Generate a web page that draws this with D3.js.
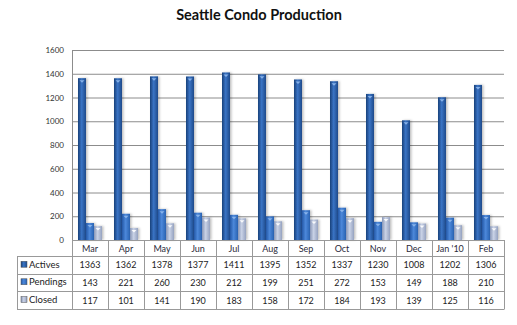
<!DOCTYPE html>
<html><head><meta charset="utf-8">
<script src="https://cdn.jsdelivr.net/npm/d3@7"></script>
<style>body{margin:0;background:#fff;}svg{display:block;}</style>
</head><body><svg id="c" width="517" height="325"></svg>
<script>
const categories = ["Mar","Apr","May","Jun","Jul","Aug","Sep","Oct","Nov","Dec","Jan '10","Feb"];
const actives  = [1363,1362,1378,1377,1411,1395,1352,1337,1230,1008,1202,1306];
const pendings = [143,221,260,230,212,199,251,272,153,149,188,210];
const closed   = [117,101,141,190,183,158,172,184,193,139,125,116];
const seriesNames = ["Actives","Pendings","Closed"];
const yTicks = [0,200,400,600,800,1000,1200,1400,1600];
const title = "Seattle Condo Production";

(function(){
const series = [actives, pendings, closed];
const svg = d3.select("#c");
const font = "Lato, 'Open Sans', sans-serif";
const pL = 72, pR = 504, pT = 50, pB = 240;
const x = d3.scaleBand().domain(categories).range([pL, pR]);
const xs = d3.scaleBand().domain(seriesNames).range([0, x.bandwidth()]).paddingOuter(0.75).paddingInner(0);
const y = d3.scaleLinear().domain([0,1600]).range([pB, pT]);

const defs = svg.append("defs");
const cols = [["#17407a","#3a74c4","#1d4a8a"],["#2559a8","#4c88da","#2a62b2"],["#8896b6","#c9d2e6","#95a2c0"]];
cols.forEach((c,i)=>{
  const g = defs.append("linearGradient").attr("id","g"+i).attr("x1","0").attr("x2","1").attr("y1","0").attr("y2","0");
  g.append("stop").attr("offset","0").attr("stop-color",c[0]);
  g.append("stop").attr("offset","0.45").attr("stop-color",c[1]);
  g.append("stop").attr("offset","1").attr("stop-color",c[2]);
});
const f = defs.append("filter").attr("id","sh").attr("x","-50%").attr("y","-10%").attr("width","200%").attr("height","130%");
f.append("feDropShadow").attr("dx",1.5).attr("dy",0).attr("stdDeviation",1).attr("flood-color","#000").attr("flood-opacity",0.25);

svg.append("text").attr("x",259).attr("y",20).attr("text-anchor","middle")
  .attr("font-family",font).attr("font-weight","bold").attr("font-size",14.5).attr("fill","#111").text(title);

svg.append("g").selectAll("line").data(yTicks.filter(d=>d>0)).join("line")
  .attr("x1",pL).attr("x2",pR).attr("y1",d=>y(d)+0.5).attr("y2",d=>y(d)+0.5)
  .attr("stroke","#8c8c8c").attr("stroke-width",1);

const ya = svg.append("g").attr("transform",`translate(${pL},0)`)
  .call(d3.axisLeft(y).tickValues(yTicks).tickFormat(d3.format("d")).tickSize(0).tickPadding(8));
ya.select(".domain").attr("stroke","#8c8c8c").attr("d",`M0.5,${pT}V${pB}`);
ya.selectAll("text").attr("font-family",font).attr("font-size",8).attr("fill","#333");

series.forEach((vals,si)=>{
  svg.append("g").selectAll("rect").data(vals).join("rect")
    .attr("x",(d,i)=>x(categories[i])+xs(seriesNames[si]))
    .attr("width",xs.bandwidth())
    .attr("y",d=>y(d)).attr("height",d=>pB-y(d))
    .attr("fill",`url(#g${si})`).attr("filter","url(#sh)");
  svg.append("g").selectAll("path").data(vals).join("path")
    .attr("d",(d,i)=>{const bx=x(categories[i])+xs(seriesNames[si]);const w=xs.bandwidth();const by=y(d)+2;
      return `M${bx+w/2-2.5},${by}L${bx+w/2+2.5},${by}L${bx+w/2},${by+2.5}Z`;})
    .attr("fill", si===2 ? "#ffffff" : "#8fb8ec").attr("opacity",0.9);
});

const tl = 17, rowY = [256, 273.5, 291, 309];
const t = svg.append("g").attr("stroke","#999").attr("stroke-width",1);
t.append("line").attr("x1",pL).attr("x2",pR).attr("y1",pB+0.5).attr("y2",pB+0.5);
rowY.forEach(ry=>t.append("line").attr("x1",tl).attr("x2",pR).attr("y1",Math.round(ry)+0.5).attr("y2",Math.round(ry)+0.5));
t.append("line").attr("x1",tl+0.5).attr("x2",tl+0.5).attr("y1",rowY[0]).attr("y2",rowY[3]+0.5);
const vx = categories.map(c=>x(c)).concat([pR]);
t.selectAll(".v").data(vx).join("line").attr("class","v")
  .attr("x1",d=>Math.round(d)+0.5).attr("x2",d=>Math.round(d)+0.5).attr("y1",pB).attr("y2",rowY[3]+0.5);

svg.append("g").selectAll("text").data(categories).join("text")
  .attr("x",d=>x(d)+x.bandwidth()/2).attr("y",251.5).attr("text-anchor","middle")
  .attr("font-family",font).attr("font-size",9).attr("fill","#2a2a3a").text(d=>d);

series.forEach((vals,si)=>{
  const cy = (rowY[si]+rowY[si+1])/2 + 3.5;
  svg.append("g").selectAll("text").data(vals).join("text")
    .attr("x",(d,i)=>x(categories[i])+x.bandwidth()/2).attr("y",cy).attr("text-anchor","middle")
    .attr("font-family",font).attr("font-size",9).attr("fill","#222").text(d=>d);
  svg.append("rect").attr("x",21).attr("y",cy-7).attr("width",6).attr("height",6)
    .attr("fill",`url(#g${si})`).attr("stroke","#555").attr("stroke-width",0.5);
  svg.append("text").attr("x",29).attr("y",cy-0.5).attr("font-family",font).attr("font-size",9.5)
    .attr("fill","#222").text(seriesNames[si]);
});
})();
</script></body></html>
